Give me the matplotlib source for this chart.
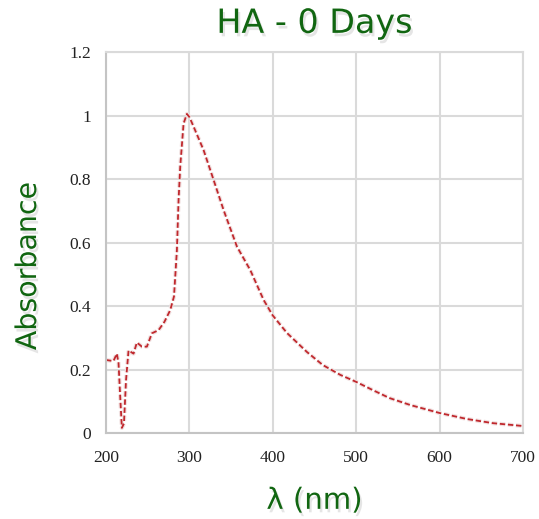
import matplotlib
matplotlib.use("Agg")
import matplotlib.pyplot as plt
import matplotlib.patheffects as pe
from matplotlib.ticker import FuncFormatter

# absorption spectrum
wavelength = [200, 205, 209, 213, 215, 217, 219, 221.5, 224, 227, 233, 237, 243,
              249, 255, 263, 270, 277, 281.5, 285, 287, 289, 293, 297, 300, 305,
              317, 329, 341, 357, 373, 389, 400, 417, 441, 460, 481, 500, 520,
              540, 565, 600, 633, 664, 700]
absorbance = [0.23, 0.228, 0.227, 0.25, 0.22, 0.115, 0.016, 0.03, 0.167, 0.26,
              0.25, 0.285, 0.272, 0.272, 0.314, 0.324, 0.35, 0.387, 0.43, 0.576,
              0.734, 0.84, 0.975, 1.005, 0.995, 0.965, 0.891, 0.797, 0.702, 0.587,
              0.513, 0.419, 0.37, 0.315, 0.255, 0.214, 0.183, 0.161, 0.135, 0.11,
              0.088, 0.063, 0.044, 0.031, 0.022]

x_ticks = [200, 300, 400, 500, 600, 700]
y_ticks = [0, 0.2, 0.4, 0.6, 0.8, 1.0, 1.2]

green = "#116611"
shadow = [pe.withSimplePatchShadow(offset=(1.5, -2.5), shadow_rgbFace="#999999", alpha=0.25)]

fig = plt.figure(figsize=(5.39, 5.19), dpi=100)
ax = fig.add_axes([0.1967, 0.1657, 0.7736, 0.7341])

ax.plot(wavelength, absorbance, color="#c0282d", lw=1.3, ls=(0, (3, 1.5)),
        path_effects=[pe.withStroke(linewidth=3, foreground="#f0e0e0")])

ax.set_xlim(200, 700)
ax.set_ylim(0, 1.2)
ax.set_xticks(x_ticks)
ax.set_yticks(y_ticks)
ax.yaxis.set_major_formatter(FuncFormatter(lambda v, p: "%g" % v))
ax.tick_params(length=0, labelsize=12.5, colors="#222222")
for lab in ax.get_xticklabels() + ax.get_yticklabels():
    lab.set_family("Liberation Serif")
ax.tick_params(axis="x", pad=12)
ax.tick_params(axis="y", pad=11)

ax.grid(True, color="#dadada", lw=1.5)
ax.set_axisbelow(True)
for side in ["top", "right"]:
    ax.spines[side].set_color("#dadada")
    ax.spines[side].set_linewidth(1.5)
for side in ["left", "bottom"]:
    ax.spines[side].set_color("#c4c4c4")
    ax.spines[side].set_linewidth(1.5)

fig.text(0.5835, 0.955, "HA - 0 Days", ha="center", va="center", fontsize=24,
         color=green, path_effects=shadow)
fig.text(0.052, 0.488, "Absorbance", ha="center", va="center", rotation=90,
         fontsize=20.5, color=green, path_effects=shadow)
fig.text(0.5835, 0.035, "λ (nm)", ha="center", va="center", fontsize=21,
         color=green, path_effects=shadow)

fig.savefig("out.png", dpi=100)
